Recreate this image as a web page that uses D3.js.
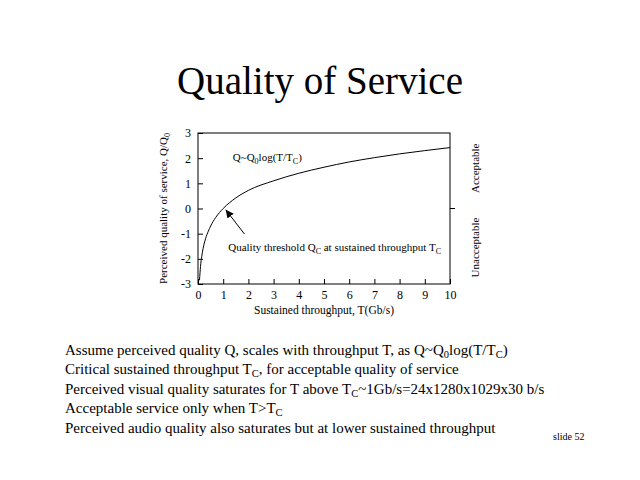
<!DOCTYPE html>
<html>
<head>
<meta charset="utf-8">
<script src="https://cdn.jsdelivr.net/npm/d3@7"></script>
<style>
  body { margin: 0; background: #fff; }
  svg { font-family: "Liberation Serif", "Times New Roman", serif; }
</style>
</head>
<body>
<svg id="slide" width="640" height="480"></svg>
<script>
// values (T in Gb/s, Q/Q0)
const throughput = [0.06, 0.1, 0.15, 0.2, 0.3, 0.41, 0.5, 0.7, 1, 1.5, 2, 3, 4, 5, 6, 7, 8, 9, 10];
const quality = [-2.85, -2.3, -1.9, -1.6, -1.2, -0.9, -0.7, -0.36, 0, 0.42, 0.72, 1.1, 1.4, 1.64, 1.85, 2.02, 2.17, 2.3, 2.42];
const xTicks = [0, 1, 2, 3, 4, 5, 6, 7, 8, 9, 10];
const yTicks = [-3, -2, -1, 0, 1, 2, 3];
const bullets = [
  [["Assume perceived quality Q, scales with throughput T, as Q~Q"], ["0", "sub"], ["log(T/T"], ["C", "sub"], [")"]],
  [["Critical sustained throughput T"], ["C", "sub"], [", for acceptable quality of service"]],
  [["Perceived visual quality saturates for T above T"], ["C", "sub"], ["~1Gb/s=24x1280x1029x30 b/s"]],
  [["Acceptable service only when T>T"], ["C", "sub"]],
  [["Perceived audio quality also saturates but at lower sustained throughput"]],
];

const svg = d3.select("#slide");

const plot = { left: 198, right: 450, top: 133, bottom: 284 };
const x = d3.scaleLinear().domain([0, 10]).range([plot.left, plot.right]);
const y = d3.scaleLinear().domain([-3, 3]).range([plot.bottom, plot.top]);

// text with subscripts: each sub tspan drops 3px, the next normal one comes back up
function richText(sel, parts, subSize) {
  let down = false;
  parts.forEach(([txt, kind]) => {
    const t = sel.append("tspan").text(txt);
    if (kind === "sub") {
      t.attr("dy", down ? 0 : 3).attr("font-size", subSize);
      down = true;
    } else if (down) {
      t.attr("dy", -3);
      down = false;
    }
  });
}

svg.append("text")
  .attr("x", 320).attr("y", 94)
  .attr("text-anchor", "middle")
  .attr("font-size", 39)
  .text("Quality of Service");

// frame
svg.append("rect")
  .attr("x", plot.left).attr("y", plot.top)
  .attr("width", plot.right - plot.left).attr("height", plot.bottom - plot.top)
  .attr("fill", "none").attr("stroke", "#000");

// axes with inner ticks
svg.append("g")
  .attr("transform", `translate(0,${plot.bottom})`)
  .call(d3.axisBottom(x).tickValues(xTicks).tickFormat(d => String(d))
    .tickSizeInner(-5).tickSizeOuter(0).tickPadding(6))
  .call(g => g.select(".domain").remove())
  .call(g => g.selectAll("text").attr("font-family", "Liberation Serif").attr("font-size", 12));

svg.append("g")
  .attr("transform", `translate(${plot.left},0)`)
  .call(d3.axisLeft(y).tickValues(yTicks).tickFormat(d => String(d))
    .tickSizeInner(-5).tickSizeOuter(0).tickPadding(7))
  .call(g => g.select(".domain").remove())
  .call(g => g.selectAll("text").attr("font-family", "Liberation Serif").attr("font-size", 12));

// right tick at Q = 0
svg.append("line")
  .attr("x1", plot.right).attr("x2", plot.right + 5)
  .attr("y1", y(0)).attr("y2", y(0))
  .attr("stroke", "#000");

// curve
const line = d3.line()
  .x((d, i) => x(throughput[i]))
  .y(d => y(d))
  .curve(d3.curveMonotoneX);

svg.append("path")
  .datum(quality)
  .attr("d", line)
  .attr("fill", "none")
  .attr("stroke", "#000")
  .attr("stroke-width", 1);

// arrow to threshold
svg.append("defs").append("marker")
  .attr("id", "head")
  .attr("viewBox", "0 0 10 10")
  .attr("refX", 10).attr("refY", 5)
  .attr("markerWidth", 8).attr("markerHeight", 8)
  .attr("markerUnits", "userSpaceOnUse")
  .attr("orient", "auto")
  .append("path").attr("d", "M0,0L10,5L0,10Z").attr("fill", "#000");

svg.append("line")
  .attr("x1", x(1.84)).attr("y1", y(-1.01))
  .attr("x2", x(1.1)).attr("y2", y(-0.05))
  .attr("stroke", "#000")
  .attr("marker-end", "url(#head)");

// annotations
richText(
  svg.append("text").attr("x", x(1.38)).attr("y", y(1.88)).attr("font-size", 11),
  [["Q~Q"], ["0", "sub"], ["log(T/T"], ["C", "sub"], [")"]], 8);

richText(
  svg.append("text").attr("x", x(1.2)).attr("y", y(-1.68)).attr("font-size", 11),
  [["Quality threshold Q"], ["C", "sub"], [" at sustained throughput T"], ["C", "sub"]], 8);

// axis titles
svg.append("text")
  .attr("x", x(5)).attr("y", 314)
  .attr("text-anchor", "middle")
  .attr("font-size", 11.5)
  .text("Sustained throughput, T(Gb/s)");

richText(
  svg.append("text")
    .attr("transform", `translate(167,${y(0)}) rotate(-90)`)
    .attr("text-anchor", "middle")
    .attr("font-size", 11),
  [["Perceived quality of service, Q/Q"], ["0", "sub"]], 8);

svg.append("text")
  .attr("transform", `translate(479,${y(1.6)}) rotate(-90)`)
  .attr("text-anchor", "middle")
  .attr("font-size", 11)
  .text("Acceptable");

svg.append("text")
  .attr("transform", `translate(479,${y(-1.55)}) rotate(-90)`)
  .attr("text-anchor", "middle")
  .attr("font-size", 11)
  .text("Unacceptable");

// bullet lines
const body = svg.append("g");
bullets.forEach((parts, i) => {
  richText(
    body.append("text").attr("x", 65).attr("y", 355 + i * 19.4).attr("font-size", 15),
    parts, 10.5);
});

svg.append("text")
  .attr("x", 553).attr("y", 440)
  .attr("font-size", 10)
  .text("slide 52");
</script>
</body>
</html>
